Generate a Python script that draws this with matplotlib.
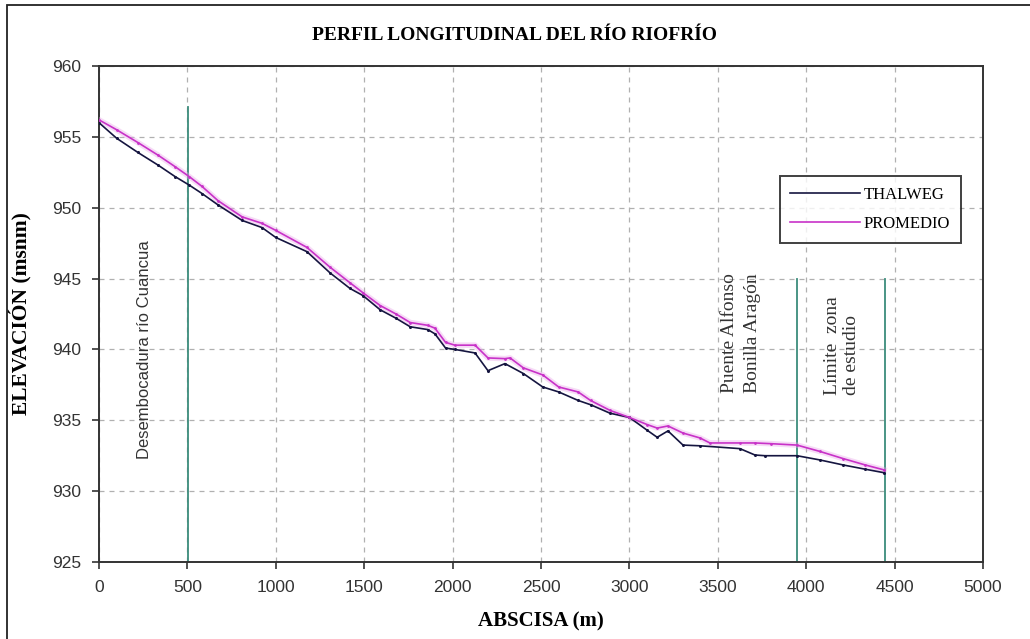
import matplotlib
matplotlib.use("Agg")
import matplotlib.pyplot as plt
from matplotlib.patches import Rectangle

# Longitudinal profile of the river: thalweg and mean bed elevation
abscisa_thalweg = [0, 100, 220, 335, 430, 510, 583, 673, 810, 922, 1000, 1176,
                   1307, 1420, 1493, 1590, 1680, 1760, 1860, 1900, 1960, 2013,
                   2127, 2200, 2296, 2400, 2510, 2600, 2710, 2780, 2890, 3000,
                   3100, 3157, 3218, 3303, 3400, 3625, 3710, 3767, 3948, 4078,
                   4208, 4333, 4440]
thalweg = [956.0, 954.9, 953.9, 953.0, 952.2, 951.6, 951.0, 950.2, 949.1, 948.6,
           947.9, 946.9, 945.4, 944.3, 943.8, 942.8, 942.2, 941.6, 941.4, 941.1,
           940.1, 940.0, 939.75, 938.5, 939.0, 938.3, 937.35, 937.0, 936.4, 936.1,
           935.5, 935.2, 934.3, 933.8, 934.25, 933.25, 933.2, 933.0, 932.55, 932.5,
           932.5, 932.2, 931.85, 931.55, 931.3]

abscisa_promedio = [0, 100, 220, 335, 430, 510, 583, 673, 810, 922, 1000, 1176,
                    1307, 1420, 1493, 1590, 1680, 1760, 1860, 1900, 1960, 2013,
                    2127, 2200, 2296, 2325, 2400, 2510, 2600, 2710, 2780, 2890,
                    3000, 3100, 3157, 3218, 3303, 3400, 3455, 3625, 3710, 3800,
                    3948, 4078, 4208, 4333, 4440]
promedio = [956.2, 955.5, 954.6, 953.7, 952.9, 952.2, 951.5, 950.5, 949.35, 948.9,
            948.4, 947.2, 945.8, 944.7, 944.0, 943.1, 942.5, 941.9, 941.7, 941.5,
            940.5, 940.3, 940.3, 939.4, 939.35, 939.4, 938.7, 938.2, 937.35, 937.0,
            936.4, 935.7, 935.2, 934.7, 934.45, 934.6, 934.1, 933.75, 933.4, 933.4,
            933.4, 933.35, 933.25, 932.8, 932.3, 931.85, 931.5]

# reference lines: (abscisa, top elevation)
referencias = [(505, 957.1), (3946, 945.0), (4446, 945.0)]

serif = "Liberation Serif"
sans = "Liberation Sans"

fig = plt.figure(figsize=(10.30, 6.39), dpi=100)
ax = fig.add_axes([0.0961, 0.1205, 0.8583, 0.7762])

# outer chart frame
fig.patches.append(Rectangle((0.0068, -0.05), 1.2, 0.05 + 0.9922, transform=fig.transFigure,
                             fill=False, edgecolor="#222222", linewidth=1.3))

for xr, ytop in referencias:
    ax.plot([xr, xr], [925, ytop], color="#3c8c7c", linewidth=1.3, zorder=2)

# soft halo under the mean line
ax.plot(abscisa_promedio, promedio, color="#e9a6ea", linewidth=4, alpha=0.4, zorder=3)
ax.plot(abscisa_thalweg, thalweg, color="#151540", linewidth=1.2, marker="o",
        markersize=1.2, label="THALWEG", zorder=4)
ax.plot(abscisa_promedio, promedio, color="#c832c8", linewidth=1.2, marker="o",
        markersize=1.0, label="PROMEDIO", zorder=5)

ax.set_xlim(0, 5000)
ax.set_ylim(925, 960)
ax.set_xticks(range(0, 5001, 500))
ax.set_yticks(range(925, 961, 5))
ax.grid(True, color="#b0b0b0", linestyle=(0, (4, 4)), linewidth=0.9)
ax.set_axisbelow(True)

for sp in ax.spines.values():
    sp.set_color("#333333")
    sp.set_linewidth(1.4)

ax.tick_params(direction="out", length=5, width=1.2, color="#333333", pad=8,
               labelsize=12.5, labelcolor="#333333")
for lab in ax.get_xticklabels() + ax.get_yticklabels():
    lab.set_fontfamily(sans)

ax.set_xlabel("ABSCISA (m)", fontfamily=serif, fontweight="bold", fontsize=15, labelpad=12)
ax.set_ylabel("ELEVACIÓN (msnm)", fontfamily=serif, fontweight="bold", fontsize=15.5, labelpad=14)
fig.text(0.5, 1 - 35 / 639, "PERFIL LONGITUDINAL DEL RÍO RIOFRÍO", ha="center", va="center",
         fontfamily=serif, fontweight="bold", fontsize=14)

ax.text(260, 940.0, "Desembocadura río Cuancua", rotation=90, ha="center", va="center",
        fontfamily=sans, fontsize=12, color="#333333")
ax.text(3631, 936.9, "Puente Alfonso\nBonilla Aragón", rotation=90, ha="center", va="bottom",
        multialignment="left", fontfamily=serif, fontsize=14, color="#333333", linespacing=1.4)
ax.text(4202, 936.8, "Límite  zona\nde estudio", rotation=90, ha="center", va="bottom",
        multialignment="left", fontfamily=serif, fontsize=14, color="#333333", linespacing=1.2)

leg = ax.legend(loc="upper right", bbox_to_anchor=(0.975, 0.778), prop={"family": serif, "size": 12},
                frameon=True, fancybox=False, edgecolor="#111111", handlelength=4.2,
                borderpad=0.65, labelspacing=0.8, handletextpad=0.2, borderaxespad=0)
leg.get_frame().set_linewidth(1.4)
for h in leg.legend_handles:
    h.set_marker("")

fig.savefig("out.png", dpi=100, facecolor="white")
